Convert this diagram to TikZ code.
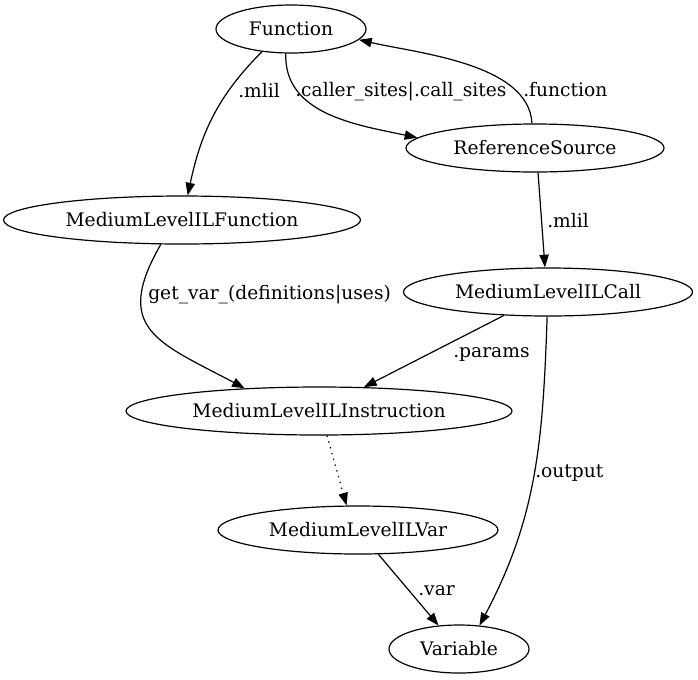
\documentclass[tikz,border=0pt]{standalone}
\usepackage{fontspec}
\setmainfont{DejaVu Serif}
\usetikzlibrary{arrows.meta,shapes.geometric}

\begin{document}
\begin{tikzpicture}[x=0.75pt,y=-0.75pt,>={Triangle[length=9.5pt,width=7pt]},
  obj/.style={draw,ellipse,inner sep=0pt,minimum height=36pt,line width=0.9pt,font=\fontsize{14}{16}\selectfont},
  rel/.style={->,line width=0.9pt},
  lbl/.style={font=\fontsize{14}{16}\selectfont,inner sep=0pt,anchor=base west}]
\useasboundingbox (0,0) rectangle (698,679);
\node[obj,minimum width=112.5pt] (func) at (291,29) {Function};
\node[obj,minimum width=193.5pt] (refsrc) at (535,148) {ReferenceSource};
\node[obj,minimum width=267.75pt] (mlilfunc) at (182,220) {MediumLevelILFunction};
\node[obj,minimum width=216.75pt] (mlilcall) at (548,292) {MediumLevelILCall};
\node[obj,minimum width=289.5pt] (mlilinstr) at (319,411) {MediumLevelILInstruction};
\node[obj,minimum width=210pt] (mlilvar) at (358,530) {MediumLevelILVar};
\node[obj,minimum width=105pt] (var) at (459,649) {Variable};
% edges
\draw[rel] (func.-142) to[out=-135,in=78] (mlilfunc.77);
\draw[rel] (func.-102) to[out=-92,in=168] (refsrc.175);
\draw[rel] (refsrc.97) to[out=93,in=-13,looseness=0.8] (func.-9);
\draw[rel] (refsrc.-83) -- (mlilcall.97);
\draw[rel] (mlilfunc.-131) to[out=-120,in=152,looseness=1.5] (mlilinstr.163);
\draw[rel] (mlilcall.-152) -- (mlilinstr.28);
\draw[rel] (mlilcall.-92) to[out=-92,in=62] (var.49);
\draw[rel,dash pattern=on 1pt off 3.5pt] (mlilinstr.-72) -- (mlilvar.115);
\draw[rel] (mlilvar.-50) -- (var.131);
% edge labels
\node[lbl] (lmlil) at (238,97) {.mlil};
\node[lbl] (lsites) at (295,96) {.caller\_sites|.call\_sites};
\node[lbl] (lfunction) at (523,96) {.function};
\node[lbl] (lcallmlil) at (547,227) {.mlil};
\node[lbl] (lgetvar) at (148,299) {get\_var\_(definitions|uses)};
\node[lbl] (lparams) at (453,357) {.params};
\node[lbl] (loutput) at (535,477) {.output};
\node[lbl] (lvar) at (418,595) {.var};
\end{tikzpicture}
\end{document}
